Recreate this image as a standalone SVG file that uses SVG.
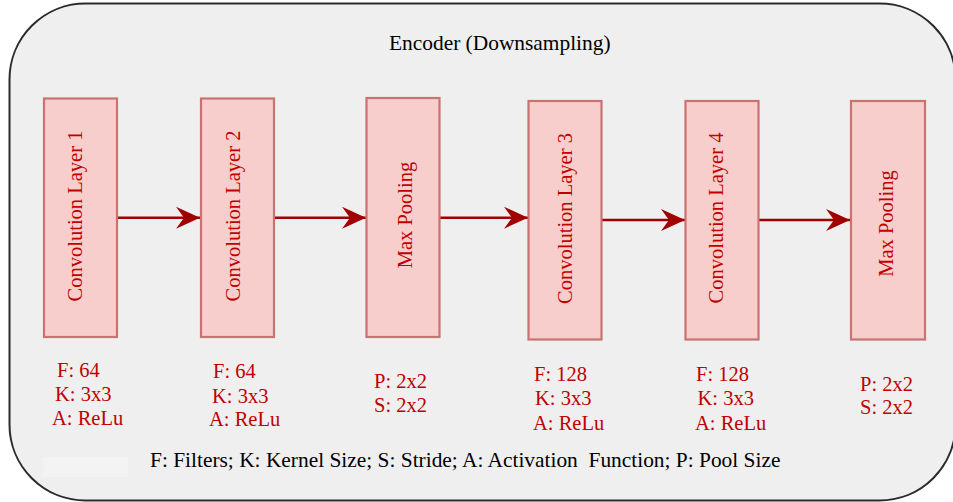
<svg xmlns="http://www.w3.org/2000/svg" width="953" height="502" viewBox="0 0 953 502">
  <style>
    .node rect { fill: #f8cecc; stroke: #c87370; stroke-width: 2.2; }
    .lbl { font-family: "Liberation Serif", "Times New Roman", serif; font-size: 20.5px; fill: #c00000; }
    .vlbl { font-family: "Liberation Serif", "Times New Roman", serif; font-size: 20.5px; fill: #c00000; text-anchor: middle; }
    .blk { font-family: "Liberation Serif", "Times New Roman", serif; font-size: 21.4px; fill: #000000; }
    .conn line { stroke: #a00000; stroke-width: 2.5; marker-end: url(#arrow); }
  </style>
  <defs>
    <marker id="arrow" markerUnits="userSpaceOnUse" markerWidth="26" markerHeight="24" refX="24" refY="11" orient="auto" overflow="visible">
      <path d="M0,0 L24,11 L0,22 L8,11 Z" fill="#a00000"/>
    </marker>
  </defs>

  <rect width="953" height="502" fill="#ffffff"/>
  <g id="container">
    <rect x="9.5" y="3.5" width="946" height="497" rx="76" ry="76" fill="#efefef" stroke="#2a2a2a" stroke-width="2"/>
    <text class="blk" x="389" y="49.5">Encoder (Downsampling)</text>
    <rect x="43" y="457" width="85" height="20" fill="#f3f3f3"/>
  </g>

  <g id="connectors" class="conn">
    <line x1="117" y1="217.7" x2="200" y2="217.7"/>
    <line x1="274" y1="217.7" x2="366" y2="217.7"/>
    <line x1="439" y1="217.7" x2="528" y2="217.7"/>
    <line x1="602" y1="220" x2="685" y2="220"/>
    <line x1="759" y1="220" x2="850" y2="220"/>
  </g>

  <g id="conv1" class="node">
    <rect x="44" y="98.5" width="73" height="238.5"/>
    <text class="vlbl" transform="translate(81.5,216) rotate(-90)">Convolution Layer 1</text>
    <text class="lbl" x="57" y="376.5">F: 64</text>
    <text class="lbl" x="55" y="401">K: 3x3</text>
    <text class="lbl" x="52" y="425">A: ReLu</text>
  </g>

  <g id="conv2" class="node">
    <rect x="201" y="98.5" width="73" height="238.5"/>
    <text class="vlbl" transform="translate(240,216) rotate(-90)">Convolution Layer 2</text>
    <text class="lbl" x="213" y="377.5">F: 64</text>
    <text class="lbl" x="212" y="402.5">K: 3x3</text>
    <text class="lbl" x="209" y="426">A: ReLu</text>
  </g>

  <g id="pool1" class="node">
    <rect x="366.5" y="98" width="73" height="239"/>
    <text class="vlbl" transform="translate(412,215) rotate(-90)">Max Pooling</text>
    <text class="lbl" x="374" y="388">P: 2x2</text>
    <text class="lbl" x="374" y="411.5">S: 2x2</text>
  </g>

  <g id="conv3" class="node">
    <rect x="528.5" y="101" width="73" height="238.5"/>
    <text class="vlbl" transform="translate(571.5,218.5) rotate(-90)">Convolution Layer 3</text>
    <text class="lbl" x="534" y="380.5">F: 128</text>
    <text class="lbl" x="535" y="405">K: 3x3</text>
    <text class="lbl" x="533" y="430">A: ReLu</text>
  </g>

  <g id="conv4" class="node">
    <rect x="685.5" y="101" width="73" height="238.5"/>
    <text class="vlbl" transform="translate(723,218) rotate(-90)">Convolution Layer 4</text>
    <text class="lbl" x="696" y="380.5">F: 128</text>
    <text class="lbl" x="697.5" y="405">K: 3x3</text>
    <text class="lbl" x="695" y="430">A: ReLu</text>
  </g>

  <g id="pool2" class="node">
    <rect x="851" y="101" width="74" height="238.5"/>
    <text class="vlbl" transform="translate(893,223.5) rotate(-90)">Max Pooling</text>
    <text class="lbl" x="860" y="391">P: 2x2</text>
    <text class="lbl" x="860" y="414">S: 2x2</text>
  </g>

  <g id="legend">
    <text class="blk" x="150" y="467" xml:space="preserve">F: Filters; K: Kernel Size; S: Stride; A: Activation  Function; P: Pool Size</text>
  </g>
</svg>
